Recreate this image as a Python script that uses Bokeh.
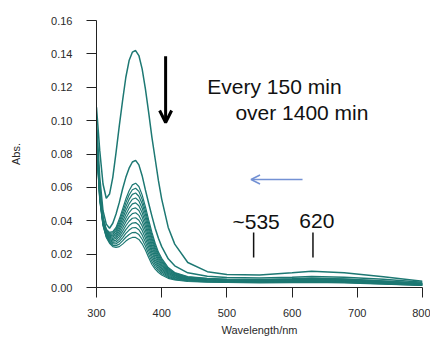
from bokeh.plotting import figure
from bokeh.models import Range1d, FixedTicker, NumeralTickFormatter, Arrow, OpenHead, Label
from bokeh.embed import file_html
from bokeh.resources import INLINE

wavelength = [300, 305, 310, 315, 320, 325, 330, 335, 340, 345, 350, 355, 360, 365, 370, 375,
              380, 385, 390, 395, 400, 410, 420, 440, 470, 500, 550, 600, 630, 680, 740, 800]

abs_t00 = [0.108, 0.082, 0.062, 0.0535, 0.056, 0.066, 0.081, 0.097, 0.112, 0.126, 0.136, 0.141, 0.142, 0.139, 0.131, 0.119,
           0.105, 0.090, 0.077, 0.064, 0.053, 0.036, 0.026, 0.015, 0.0095, 0.0078, 0.0075, 0.0088, 0.0097, 0.0088, 0.0065, 0.0038]
abs_t01 = [0.100, 0.066, 0.046, 0.038, 0.0355, 0.0385, 0.044, 0.051, 0.059, 0.066, 0.0715, 0.0752, 0.0762, 0.0735, 0.067, 0.0585,
           0.0505, 0.0428, 0.0355, 0.0295, 0.0245, 0.0172, 0.0130, 0.0088, 0.0067, 0.0060, 0.0057, 0.0062, 0.0066, 0.0062, 0.0050, 0.0032]
abs_t02 = [.0950, .0600, .0420, .0350, .0330, .0335, .0360, .0410, .0470, .0530, .0580, .0615, .0625, .0605, .0555, .0485,
           .0405, .0330, .0265, .0212, .0175, .0120, .0090, .0066, .0055, .0050, .0048, .0053, .0057, .0052, .0040, .0026]
abs_t03 = [.0941, .0593, .0415, .0345, .0324, .0327, .0349, .0395, .0451, .0507, .0554, .0586, .0595, .0576, .0528, .0461,
           .0385, .0313, .0251, .0201, .0166, .0114, .0086, .0063, .0053, .0048, .0046, .0051, .0055, .0050, .0038, .0025]
abs_t04 = [.0932, .0585, .0411, .0341, .0318, .0319, .0338, .0380, .0432, .0484, .0528, .0558, .0566, .0547, .0502, .0438,
           .0364, .0295, .0237, .0190, .0157, .0108, .0082, .0061, .0051, .0046, .0044, .0049, .0052, .0047, .0036, .0023]
abs_t05 = [.0923, .0578, .0406, .0336, .0312, .0310, .0327, .0365, .0413, .0461, .0501, .0529, .0536, .0519, .0475, .0414,
           .0344, .0278, .0223, .0179, .0148, .0102, .0078, .0058, .0049, .0045, .0043, .0046, .0050, .0045, .0035, .0022]
abs_t06 = [.0914, .0571, .0402, .0332, .0306, .0302, .0316, .0350, .0394, .0438, .0475, .0501, .0507, .0490, .0448, .0390,
           .0323, .0260, .0209, .0168, .0139, .0096, .0074, .0055, .0047, .0043, .0041, .0044, .0047, .0043, .0033, .0021]
abs_t07 = [.0905, .0564, .0397, .0327, .0300, .0294, .0305, .0335, .0375, .0415, .0449, .0472, .0477, .0461, .0422, .0367,
           .0303, .0243, .0195, .0157, .0130, .0090, .0070, .0052, .0045, .0041, .0039, .0042, .0045, .0041, .0031, .0020]
abs_t08 = [.0895, .0556, .0393, .0323, .0295, .0286, .0295, .0320, .0355, .0393, .0423, .0443, .0448, .0432, .0395, .0343,
           .0282, .0225, .0180, .0145, .0120, .0085, .0065, .0050, .0042, .0039, .0037, .0040, .0042, .0038, .0029, .0018]
abs_t09 = [.0886, .0549, .0388, .0318, .0289, .0278, .0284, .0305, .0336, .0370, .0397, .0415, .0418, .0403, .0369, .0320,
           .0262, .0208, .0166, .0134, .0111, .0079, .0061, .0047, .0040, .0037, .0035, .0038, .0040, .0036, .0027, .0017]
abs_t10 = [.0877, .0542, .0384, .0314, .0283, .0270, .0273, .0290, .0317, .0347, .0371, .0386, .0389, .0374, .0342, .0296,
           .0241, .0190, .0152, .0123, .0102, .0073, .0057, .0044, .0038, .0035, .0033, .0036, .0037, .0034, .0025, .0016]
abs_t11 = [.0868, .0535, .0379, .0309, .0277, .0261, .0262, .0275, .0298, .0324, .0344, .0358, .0359, .0346, .0315, .0272,
           .0221, .0173, .0138, .0112, .0093, .0067, .0053, .0041, .0036, .0034, .0032, .0033, .0035, .0032, .0024, .0015]
abs_t12 = [.0859, .0527, .0375, .0305, .0271, .0253, .0251, .0260, .0279, .0301, .0318, .0329, .0330, .0317, .0289, .0249,
           .0200, .0155, .0124, .0101, .0084, .0061, .0049, .0039, .0034, .0032, .0030, .0031, .0032, .0030, .0022, .0013]
abs_t13 = [.0850, .0520, .0370, .0300, .0265, .0245, .0240, .0245, .0260, .0278, .0292, .0300, .0300, .0288, .0262, .0225,
           .0180, .0138, .0110, .0090, .0075, .0055, .0045, .0036, .0032, .0030, .0028, .0029, .0030, .0027, .0020, .0012]

x_ticks = [300, 400, 500, 600, 700, 800]
y_ticks = [0.00, 0.02, 0.04, 0.06, 0.08, 0.10, 0.12, 0.14, 0.16]
marker_wavelengths = [541, 632]
marker_labels = ["~535", "620"]

FONT = "Liberation Sans"
TEAL = "#1d7873"

p = figure(width=430, height=340, output_backend="svg", toolbar_location=None,
           x_range=Range1d(300, 800), y_range=Range1d(0, 0.16),
           min_border_left=96, min_border_right=8, min_border_top=20, min_border_bottom=53)
p.xgrid.visible = False
p.ygrid.visible = False
p.outline_line_color = None
p.background_fill_color = "white"
p.border_fill_color = "white"

bunch = [abs_t13, abs_t12, abs_t11, abs_t10, abs_t09, abs_t08, abs_t07, abs_t06, abs_t05,
         abs_t04, abs_t03, abs_t02]
for s in bunch:
    p.line(wavelength, s, line_color=TEAL, line_width=1.2)
p.line(wavelength, abs_t01, line_color=TEAL, line_width=1.5)
p.line(wavelength, abs_t00, line_color=TEAL, line_width=1.5)

for ax in (p.xaxis[0], p.yaxis[0]):
    ax.axis_line_color = "#222222"
    ax.axis_line_width = 1
    ax.major_tick_line_color = "#222222"
    ax.major_tick_out = 10
    ax.major_tick_in = 0
    ax.minor_tick_line_color = None
    ax.major_label_text_font = FONT
    ax.major_label_text_font_size = "11px"
    ax.major_label_text_color = "#2a2a2a"
    ax.axis_label_text_font = FONT
    ax.axis_label_text_font_size = "11px"
    ax.axis_label_text_font_style = "normal"
    ax.axis_label_text_color = "#2a2a2a"

p.xaxis.ticker = FixedTicker(ticks=x_ticks)
p.yaxis.ticker = FixedTicker(ticks=y_ticks)
p.yaxis.formatter = NumeralTickFormatter(format="0.00")
p.xaxis.axis_label = "Wavelength/nm"
p.yaxis.axis_label = "Abs."
p.xaxis.major_label_standoff = 11
p.yaxis.major_label_standoff = 14
p.xaxis.axis_label_standoff = 4
p.yaxis.axis_label_standoff = 26

p.add_layout(Label(x=470, y=0.1205, text="Every 150 min", text_font=FONT, text_font_size="21px",
                   text_color="#111111", text_baseline="alphabetic"))
p.add_layout(Label(x=513, y=0.1049, text="over 1400 min", text_font=FONT, text_font_size="21px",
                   text_color="#111111", text_baseline="alphabetic"))
p.add_layout(Label(x=508.5, y=0.0396, text=marker_labels[0], text_font=FONT, text_font_size="21px",
                   text_color="#111111", text_baseline="alphabetic"))
p.add_layout(Label(x=611, y=0.0396, text=marker_labels[1], text_font=FONT, text_font_size="21px",
                   text_color="#111111", text_baseline="alphabetic"))

p.segment(x0=marker_wavelengths, y0=[0.018, 0.018], x1=marker_wavelengths, y1=[0.033, 0.033],
          line_color="#111111", line_width=1.5)

p.add_layout(Arrow(end=OpenHead(size=12, line_width=3, line_color="black"),
                   x_start=406, y_start=0.1386, x_end=406, y_end=0.0989,
                   line_width=3, line_color="black"))
p.add_layout(Arrow(end=OpenHead(size=9, line_width=1.5, line_color="#7391d4"),
                   x_start=616, y_start=0.0647, x_end=537, y_end=0.0647,
                   line_width=1.5, line_color="#7391d4"))

open("out.html", "w").write(file_html(p, INLINE))
